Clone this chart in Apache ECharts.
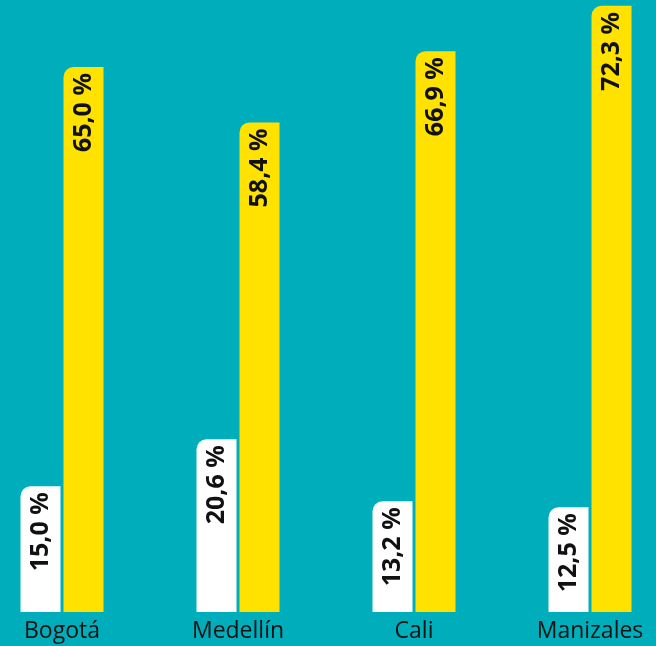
<!DOCTYPE html>
<html><head><meta charset="utf-8">
<script src="https://cdn.jsdelivr.net/npm/echarts@6/dist/echarts.min.js"></script>
<style>html,body{margin:0;padding:0;background:#00AEBB;overflow:hidden;width:656px;height:646px;}#c{position:absolute;left:-26px;top:0;width:704px;height:646px;}</style>
</head><body><div id="c"></div>
<script>
const categories = ['Bogotá', 'Medellín', 'Cali', 'Manizales'];
const whiteValues = [15.0, 20.6, 13.2, 12.5];
const yellowValues = [65.0, 58.4, 66.9, 72.3];

const fmt = v => v.toFixed(1).replace('.', ',') + ' %';
const labelStyle = {
  show: true, position: 'insideTop', rotate: 90, align: 'right', verticalAlign: 'middle',
  distance: 6, fontFamily: 'Open Sans', fontWeight: 'bold', fontSize: 25, color: '#111111',
  formatter: p => fmt(p.value)
};
const chart = echarts.init(document.getElementById('c'));
chart.setOption({
  backgroundColor: '#00AEBB',
  animation: false,
  grid: { left: 0, right: 0, top: 0, bottom: 34 },
  xAxis: {
    type: 'category', data: categories,
    axisLine: { show: false }, axisTick: { show: false },
    axisLabel: { fontFamily: 'Open Sans', fontSize: 23, color: '#111', margin: 8 }
  },
  yAxis: { type: 'value', min: 0, max: 73, show: false, splitLine: { show: false } },
  series: [
    { type: 'bar', data: whiteValues, barWidth: 40, barGap: '7.5%',
      itemStyle: { color: '#ffffff', borderRadius: [10, 0, 0, 0] }, label: labelStyle },
    { type: 'bar', data: yellowValues, barWidth: 40, barGap: '7.5%',
      itemStyle: { color: '#FFE200', borderRadius: [10, 0, 0, 0] }, label: labelStyle }
  ]
});
</script></body></html>
